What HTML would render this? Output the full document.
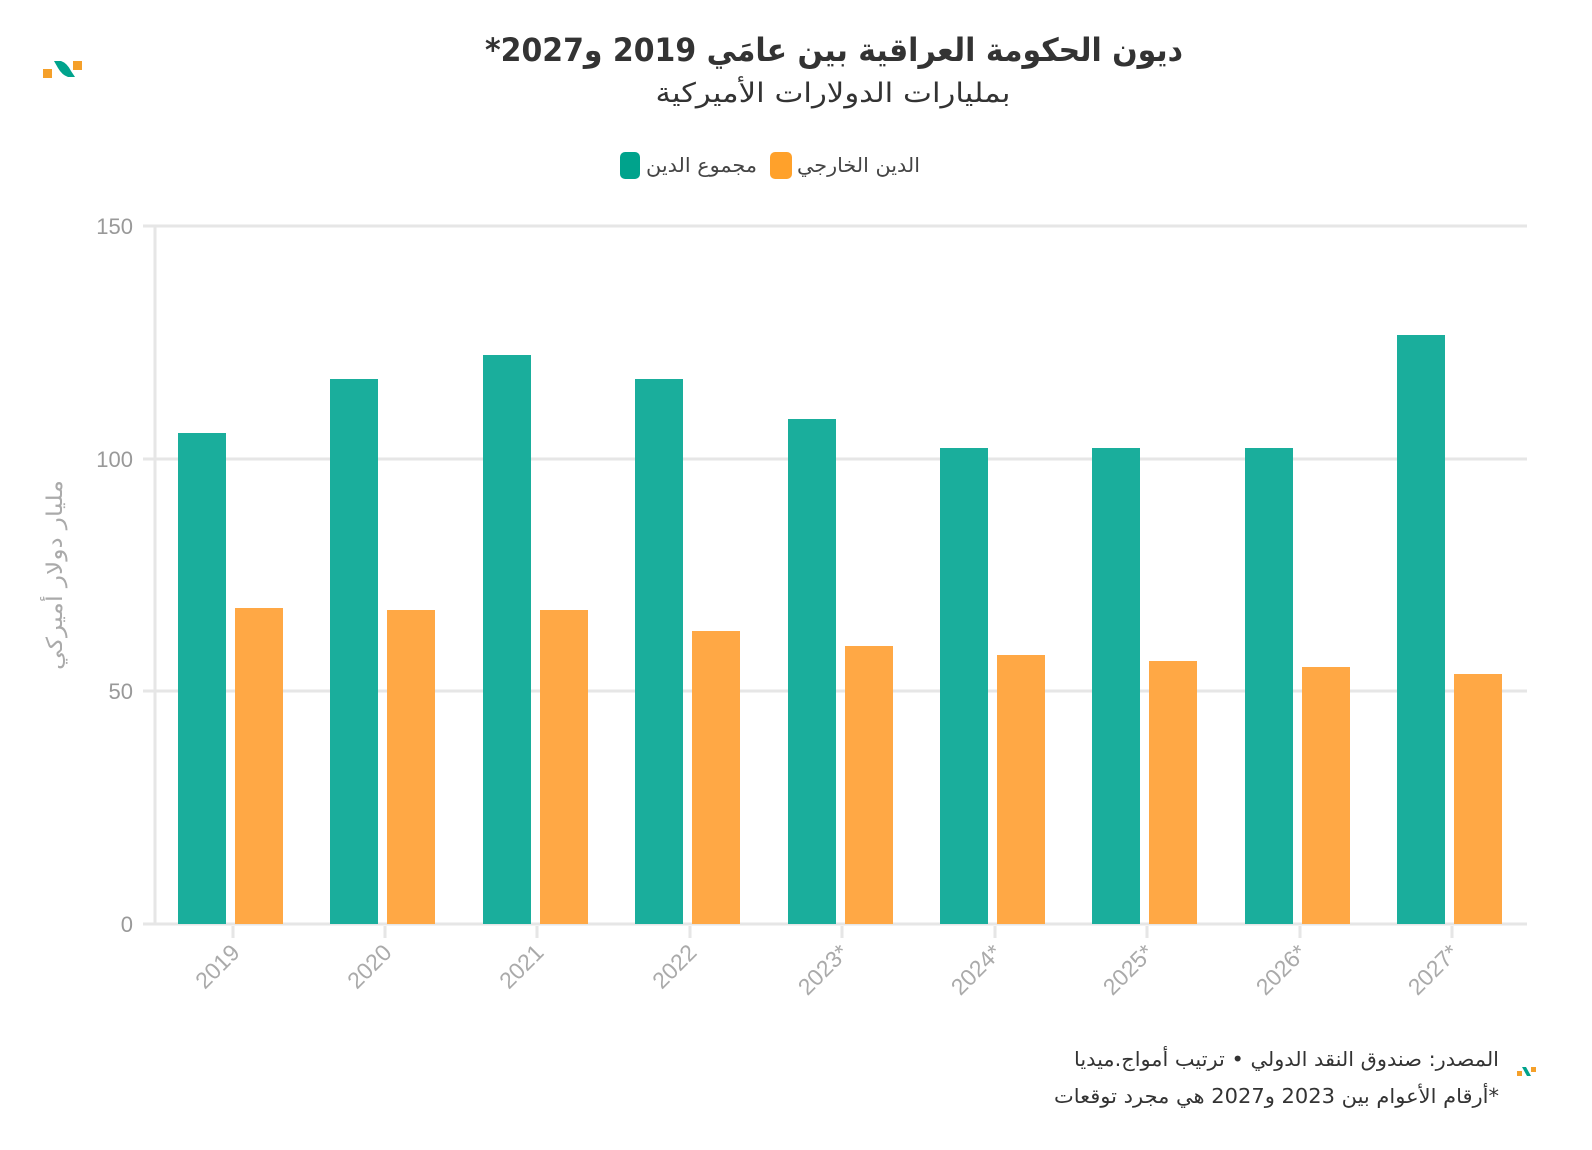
<!DOCTYPE html>
<html><head><meta charset="utf-8">
<style>html,body{margin:0;padding:0;background:#fff;}svg{display:block;}
text{font-family:"DejaVu Sans","Liberation Sans",sans-serif;}</style></head>
<body>
<svg width="1592" height="1150" viewBox="0 0 1592 1150" xmlns="http://www.w3.org/2000/svg">
<!-- logo -->
<rect x="43" y="69" width="9" height="9" fill="#f5a02a"/>
<path d="M54 61 L61 61 Q67 63 71 71 L75 77 L68 77 Q62 75 58 68 Z" fill="#00a38c"/>
<rect x="73" y="61" width="9" height="9" fill="#f5a02a"/>
<!-- title -->
<text x="834" y="61" text-anchor="middle" font-size="32" font-weight="bold" fill="#333" textLength="698" lengthAdjust="spacingAndGlyphs">ديون الحكومة العراقية بين عامَي 2019 و2027*&#x200F;</text>
<text x="833" y="102" text-anchor="middle" font-size="27" fill="#333" textLength="355" lengthAdjust="spacingAndGlyphs">بمليارات الدولارات الأميركية</text>
<!-- legend -->
<rect x="620" y="152" width="20" height="27" rx="5" fill="#00a38c"/>
<text x="646" y="172" font-size="20" fill="#444" textLength="111" lengthAdjust="spacingAndGlyphs">مجموع الدين</text>
<rect x="770" y="152" width="22" height="27" rx="5" fill="#ffa12b"/>
<text x="797" y="172" font-size="20" fill="#444" textLength="123" lengthAdjust="spacingAndGlyphs">الدين الخارجي</text>
<!-- grid -->
<g stroke="#e6e6e6" stroke-width="3">
<line x1="143" y1="226" x2="1527" y2="226"/>
<line x1="143" y1="459" x2="1527" y2="459"/>
<line x1="143" y1="691" x2="1527" y2="691"/>
<line x1="143" y1="924" x2="1527" y2="924"/>
<line x1="155" y1="226" x2="155" y2="924"/>
</g>
<g font-size="22" fill="#999" text-anchor="end">
<text x="133" y="234" style="font-family:'Liberation Sans'">150</text>
<text x="133" y="467" style="font-family:'Liberation Sans'">100</text>
<text x="133" y="699" style="font-family:'Liberation Sans'">50</text>
<text x="133" y="932" style="font-family:'Liberation Sans'">0</text>
</g>
<text transform="translate(62,575) rotate(-90)" text-anchor="middle" font-size="22" fill="#aaa" textLength="190" lengthAdjust="spacingAndGlyphs">مليار دولار أميركي</text>
<!-- bars -->
<g fill="#1aae9c">
<rect x="178" y="433" width="48" height="491"/>
<rect x="330" y="379" width="48" height="545"/>
<rect x="483" y="355" width="48" height="569"/>
<rect x="635" y="379" width="48" height="545"/>
<rect x="788" y="419" width="48" height="505"/>
<rect x="940" y="448" width="48" height="476"/>
<rect x="1092" y="448" width="48" height="476"/>
<rect x="1245" y="448" width="48" height="476"/>
<rect x="1397" y="335" width="48" height="589"/>
</g>
<g fill="#ffa845">
<rect x="235" y="608" width="48" height="316"/>
<rect x="387" y="610" width="48" height="314"/>
<rect x="540" y="610" width="48" height="314"/>
<rect x="692" y="631" width="48" height="293"/>
<rect x="845" y="646" width="48" height="278"/>
<rect x="997" y="655" width="48" height="269"/>
<rect x="1149" y="661" width="48" height="263"/>
<rect x="1302" y="667" width="48" height="257"/>
<rect x="1454" y="674" width="48" height="250"/>
</g>
<g stroke="#e6e6e6" stroke-width="3">
<line x1="233" y1="926" x2="233" y2="938"/><line x1="385" y1="926" x2="385" y2="938"/>
<line x1="537" y1="926" x2="537" y2="938"/><line x1="690" y1="926" x2="690" y2="938"/>
<line x1="842" y1="926" x2="842" y2="938"/><line x1="995" y1="926" x2="995" y2="938"/>
<line x1="1147" y1="926" x2="1147" y2="938"/><line x1="1300" y1="926" x2="1300" y2="938"/>
<line x1="1452" y1="926" x2="1452" y2="938"/>
</g>
<g font-size="23" fill="#aaa" text-anchor="end">
<text transform="translate(241,954) rotate(-45)" style="font-family:'Liberation Sans'">2019</text>
<text transform="translate(393,954) rotate(-45)" style="font-family:'Liberation Sans'">2020</text>
<text transform="translate(545,954) rotate(-45)" style="font-family:'Liberation Sans'">2021</text>
<text transform="translate(698,954) rotate(-45)" style="font-family:'Liberation Sans'">2022</text>
<text transform="translate(850,954) rotate(-45)" style="font-family:'Liberation Sans'">2023*</text>
<text transform="translate(1003,954) rotate(-45)" style="font-family:'Liberation Sans'">2024*</text>
<text transform="translate(1155,954) rotate(-45)" style="font-family:'Liberation Sans'">2025*</text>
<text transform="translate(1308,954) rotate(-45)" style="font-family:'Liberation Sans'">2026*</text>
<text transform="translate(1460,954) rotate(-45)" style="font-family:'Liberation Sans'">2027*</text>
</g>
<!-- source -->
<text x="1074" y="1066" font-size="20" fill="#333" textLength="425" lengthAdjust="spacingAndGlyphs">المصدر: صندوق النقد الدولي • ترتيب أمواج.ميديا</text>
<text x="1054" y="1103" font-size="20" fill="#333" textLength="445" lengthAdjust="spacingAndGlyphs">&#x200F;*أرقام الأعوام بين 2023 و2027 هي مجرد توقعات</text>
<rect x="1517" y="1071" width="5" height="5" fill="#f5a02a"/>
<path d="M1522 1067 L1526 1067 L1531 1076 L1527 1076 Z" fill="#00a38c"/>
<rect x="1531" y="1067" width="5" height="5" fill="#f5a02a"/>
</svg>
</body></html>
